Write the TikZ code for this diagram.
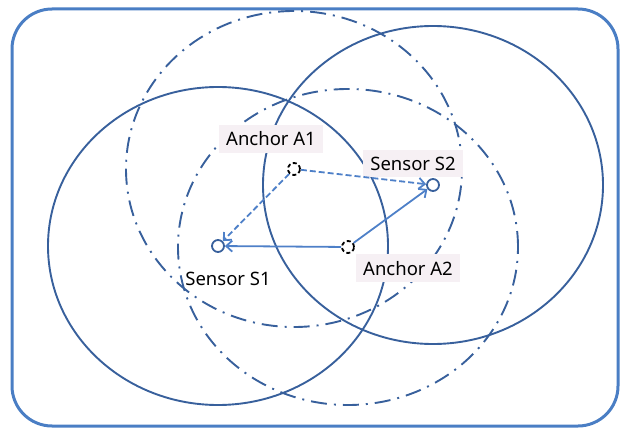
\documentclass[tikz,border=0pt]{standalone}
\usepackage{fontspec}
\setmainfont{Noto Sans}
\usetikzlibrary{arrows.meta}
\definecolor{frameblue}{RGB}{74,126,196}
\definecolor{ringblue}{RGB}{56,96,156}
\definecolor{arrowblue}{RGB}{78,128,200}
\definecolor{labelbg}{RGB}{246,240,244}
\begin{document}
\begin{tikzpicture}[x=1pt,y=-1pt,
  ring/.style={draw=ringblue, line width=1.9pt},
  dashring/.style={ring, dash pattern=on 16pt off 7pt on 2pt off 7pt},
  sensor/.style={circle, draw=ringblue, line width=1.8pt, minimum size=12pt, inner sep=0pt, fill=white},
  anchorpt/.style={circle, draw=black, line width=1.8pt, minimum size=12pt, inner sep=0pt, fill=white, dash pattern=on 4pt off 2.6pt},
  arr/.style={draw=arrowblue, line width=1.8pt, -{Straight Barb[length=6pt,width=11pt,line width=1.8pt]}},
  lbl/.style={fill=labelbg, font=\fontsize{18.5}{21}\selectfont, text=black, inner xsep=7pt, inner ysep=7pt, anchor=base},
  plainlbl/.style={lbl, fill=none}
]
\useasboundingbox (0,0) rectangle (622,428);
\draw[frameblue, line width=3pt, rounded corners=40pt] (12,9) rectangle (618,426);

\coordinate (cs1) at (218,246);
\coordinate (cs2) at (433,185);
\coordinate (ca1) at (294,169);
\coordinate (ca2) at (348,247);

\draw[ring] (cs1) ellipse [x radius=170pt, y radius=159pt];
\draw[ring] (cs2) ellipse [x radius=170pt, y radius=159pt];
\draw[dashring] (ca1) ellipse [x radius=168pt, y radius=158pt];
\draw[dashring] (ca2) ellipse [x radius=170pt, y radius=158pt];

\node[lbl] (la1) at (271,146) {Anchor A1};
\node[lbl] (ls2) at (413,170) {Sensor S2};
\node[plainlbl] (ls1) at (228,285) {Sensor S1};
\node[lbl] (la2) at (408,275) {Anchor A2};

\node[sensor] (s1) at (cs1) {};
\node[sensor] (s2) at (cs2) {};
\node[anchorpt] (a1) at (ca1) {};
\node[anchorpt] (a2) at (ca2) {};

\draw[arr, dash pattern=on 6pt off 3pt] (a1) -- (s2);
\draw[arr, dash pattern=on 6pt off 3pt] (a1) -- (s1);
\draw[arr] (a2) -- (s1);
\draw[arr] (a2) -- (s2);
\end{tikzpicture}
\end{document}
